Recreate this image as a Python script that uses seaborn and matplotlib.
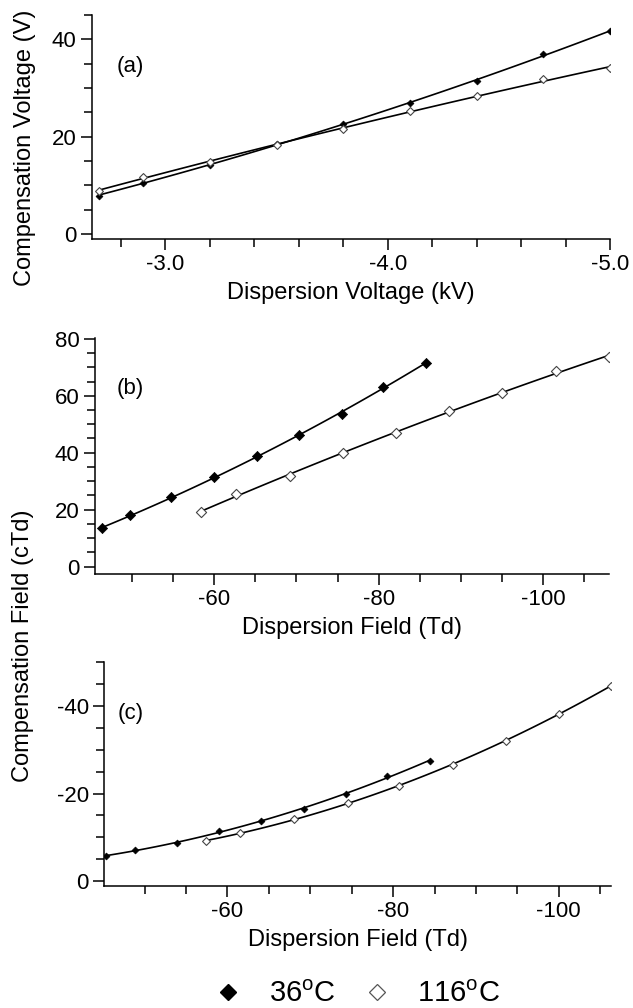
import numpy as np
import pandas as pd
import matplotlib
matplotlib.use("Agg")
import matplotlib.pyplot as plt
from matplotlib.ticker import MultipleLocator, FormatStrFormatter
from matplotlib.lines import Line2D
import seaborn as sns

# (a) compensation voltage (V) vs dispersion voltage (kV)
disp_v = [-2.7, -2.9, -3.2, -3.5, -3.8, -4.1, -4.4, -4.7, -5.0]
cv_36 = [7.9, 10.6, 14.1, 18.5, 22.7, 26.9, 31.4, 36.9, 41.7]
cv_116 = [8.9, 11.8, 14.8, 18.4, 21.6, 25.2, 28.3, 31.8, 34.1]

# (b) compensation field (cTd) vs dispersion field (Td)
ed_36_b = [-46.4, -49.7, -54.8, -60.0, -65.2, -70.3, -75.5, -80.5, -85.7]
cf_36_b = [13.5, 18.0, 24.3, 31.3, 38.9, 46.1, 53.6, 63.1, 71.5]
ed_116_b = [-58.4, -62.7, -69.2, -75.7, -82.1, -88.5, -95.0, -101.5, -108.0]
cf_116_b = [19.3, 25.5, 31.8, 39.9, 46.9, 54.7, 61.1, 68.6, 73.6]

# (c) compensation field (cTd) vs dispersion field (Td)
ed_36_c = [-45.4, -48.9, -53.9, -59.0, -64.1, -69.2, -74.3, -79.3, -84.4]
cf_36_c = [-5.7, -7.1, -8.8, -11.5, -13.7, -16.4, -19.9, -23.9, -27.5]
ed_116_c = [-57.4, -61.5, -68.0, -74.5, -80.7, -87.2, -93.6, -100.0, -106.3]
cf_116_c = [-9.1, -11.0, -14.1, -17.9, -21.8, -26.5, -32.0, -38.2, -44.6]

labels = ["36$^\\mathregular{o}$C", "116$^\\mathregular{o}$C"]

sns.set_style("ticks")
plt.rcParams["font.family"] = ["Liberation Sans", "DejaVu Sans"]
plt.rcParams["axes.unicode_minus"] = False
plt.rcParams["axes.linewidth"] = 1.1
for key in ["axes.edgecolor", "xtick.color", "ytick.color", "text.color", "axes.labelcolor"]:
    plt.rcParams[key] = "black"

W, H = 633, 1008
fig = plt.figure(figsize=(W / 100, H / 100), dpi=100)


def box(l, r, t, b):
    return [l / W, 1 - b / H, (r - l) / W, (b - t) / H]


ax_a = fig.add_axes(box(92, 610, 15, 239))
ax_b = fig.add_axes(box(95, 609, 338, 574))
ax_c = fig.add_axes(box(104, 611, 662, 886))


def panel(ax, x36, y36, x116, y116, ms_fill, ms_open):
    for x, y in [(x36, y36), (x116, y116)]:
        sns.regplot(x=np.array(x), y=np.array(y), order=2, ci=None, scatter=False,
                    ax=ax, line_kws=dict(color="black", lw=1.2))
    sns.scatterplot(x=x36, y=y36, marker="D", s=ms_fill ** 2, color="black",
                    edgecolor="black", linewidth=0.5, ax=ax, zorder=3)
    sns.scatterplot(x=x116, y=y116, marker="D", s=ms_open ** 2, color="white",
                    edgecolor="#444444", linewidth=0.8, ax=ax, zorder=3)
    sns.despine(ax=ax)
    ax.tick_params(which="major", length=8, width=1.1, labelsize=16, pad=3)
    ax.tick_params(which="minor", length=5.5, width=1.1)
    ax.set_xlabel("")
    ax.set_ylabel("")


panel(ax_a, disp_v, cv_36, disp_v, cv_116, 3.5, 4.0)
ax_a.set_xlim(-2.67, -5.0)
ax_a.set_ylim(-1, 45)
ax_a.xaxis.set_major_locator(MultipleLocator(1.0))
ax_a.xaxis.set_minor_locator(MultipleLocator(0.2))
ax_a.xaxis.set_major_formatter(FormatStrFormatter("%.1f"))
ax_a.yaxis.set_major_locator(MultipleLocator(20))
ax_a.yaxis.set_minor_locator(MultipleLocator(5))
ax_a.set_xlabel("Dispersion Voltage (kV)", fontsize=17, labelpad=5)
ax_a.text(0.048, 0.768, "(a)", transform=ax_a.transAxes, fontsize=16, va="center")

panel(ax_b, ed_36_b, cf_36_b, ed_116_b, cf_116_b, 5.2, 5.2)
ax_b.set_xlim(-45.5, -108)
ax_b.set_ylim(-2.6, 80.3)
for axis in (ax_b.xaxis, ax_b.yaxis):
    axis.set_major_locator(MultipleLocator(20))
    axis.set_minor_locator(MultipleLocator(5))
ax_b.set_xlabel("Dispersion Field (Td)", fontsize=17, labelpad=5)
ax_b.text(0.043, 0.788, "(b)", transform=ax_b.transAxes, fontsize=16, va="center")

panel(ax_c, ed_36_c, cf_36_c, ed_116_c, cf_116_c, 3.5, 4.0)
ax_c.set_xlim(-45.1, -106.3)
ax_c.set_ylim(1.1, -50)
for axis in (ax_c.xaxis, ax_c.yaxis):
    axis.set_major_locator(MultipleLocator(20))
    axis.set_minor_locator(MultipleLocator(5))
ax_c.set_xlabel("Dispersion Field (Td)", fontsize=17, labelpad=5)
ax_c.text(0.026, 0.772, "(c)", transform=ax_c.transAxes, fontsize=16, va="center")

fig.text(25 / W, 1 - 148 / H, "Compensation Voltage (V)", rotation=90,
         ha="center", va="center", fontsize=17)
fig.text(23 / W, 1 - 646 / H, "Compensation Field (cTd)", rotation=90,
         ha="center", va="center", fontsize=17)

handles = [
    Line2D([], [], ls="none", marker="D", ms=8.5, color="black"),
    Line2D([], [], ls="none", marker="D", ms=8.5, markerfacecolor="white",
           markeredgecolor="#555555", markeredgewidth=0.9),
]
fig.legend(handles, labels, loc="center", bbox_to_anchor=(357 / W, 1 - 994 / H),
           ncol=2, frameon=False, fontsize=21, handlelength=1.0,
           handletextpad=0.9, columnspacing=0.9, borderpad=0)

fig.savefig("out.png", dpi=100)
